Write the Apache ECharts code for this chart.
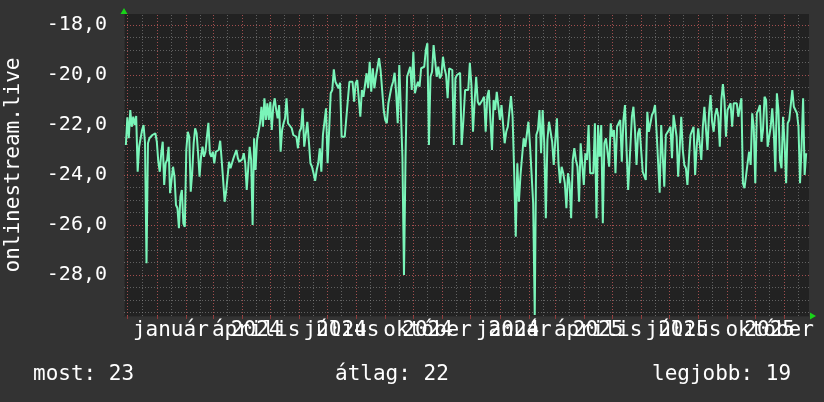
<!DOCTYPE html>
<html>
<head>
<meta charset="utf-8">
<script src="https://cdn.jsdelivr.net/npm/echarts@6/dist/echarts.min.js"></script>
<style>
  html, body { margin: 0; padding: 0; background: #333333; }
  #chart { width: 824px; height: 402px; }
</style>
</head>
<body>
<div id="chart"></div>
<script>
  // time range of the graph (2 years)
  const rangeStart = '2023-11-27';
  const rangeEnd = '2025-11-27';

  // measured values, oldest first, in four stretches (first and last day of each)
  const spans = [
    ['2023-11-29', '2024-05-20'],
    ['2024-05-24', '2024-11-23'],
    ['2024-11-25', '2025-05-18'],
    ['2025-05-22', '2025-11-24']
  ];
  const values1 = [
    -22.80, -21.69, -22.53, -21.40, -22.07, -21.67, -22.00, -21.64, -23.87, -22.87,
    -22.80, -22.20, -22.00, -22.73, -27.53, -22.73, -22.53, -22.47, -22.40, -22.47,
    -22.33, -22.67, -23.47, -23.87, -23.13, -22.67, -24.40, -23.53, -23.40, -22.87,
    -24.73, -24.67, -23.67, -24.07, -25.20, -25.33, -26.13, -24.87, -24.60, -25.93,
    -26.07, -23.00, -22.27, -22.47, -24.67, -23.93, -22.73, -22.13, -22.33, -23.13,
    -24.07, -23.27, -22.87, -23.27, -23.07, -22.47, -21.91, -23.13, -23.27, -23.07,
    -23.53, -23.07, -23.13, -23.00, -22.63, -23.40, -24.20, -25.07, -24.67, -24.73,
    -23.47, -23.73, -23.67, -23.33, -23.27, -23.00, -23.33, -23.47, -23.40, -23.37,
    -23.13, -23.53, -24.60, -23.73, -22.87, -23.40, -26.00, -22.53, -23.80, -22.60,
    -22.53, -21.93, -21.27, -22.07, -20.93, -21.80, -21.13, -21.80, -21.07, -22.20,
    -21.27, -20.93, -21.40, -21.73, -21.20, -23.07, -22.20, -21.93, -21.73, -20.93,
    -21.93
  ];
  const values2 = [
    -22.13, -22.40, -22.33, -22.47, -22.93, -22.27, -22.13, -21.33, -22.87, -22.87,
    -21.87, -22.67, -23.53, -23.67, -23.93, -24.23, -23.80, -23.53, -22.93, -23.87,
    -22.40, -22.33, -21.33, -23.53, -22.20, -20.73, -20.60, -19.77, -20.27, -20.33,
    -20.53, -20.31, -22.47, -22.49, -22.47, -22.40, -21.00, -20.27, -20.23, -20.27,
    -21.07, -20.33, -20.20, -20.13, -21.67, -20.60, -20.87, -20.80, -19.93, -20.53,
    -19.47, -20.67, -19.73, -20.53, -20.07, -20.07, -19.33, -19.80, -19.87, -21.40,
    -21.80, -21.93, -21.13, -20.80, -20.47, -20.27, -19.91, -20.73, -21.93, -19.60,
    -19.53, -23.27, -28.00, -23.27, -20.07, -20.00, -19.67, -20.60, -19.07, -20.73,
    -20.47, -20.27, -20.47, -19.73, -19.69, -19.67, -19.00, -18.73, -22.80, -20.07,
    -19.87, -18.80, -18.73, -20.07, -19.67, -20.13, -20.00, -19.27, -19.73, -20.00,
    -20.93, -19.73, -19.67, -19.80, -22.80, -20.13, -20.00, -19.93, -19.91, -22.80,
    -21.93
  ];
  const values3 = [
    -20.60, -20.67, -20.60, -19.51, -20.40, -22.27, -21.07, -20.07, -21.07, -21.20,
    -21.20, -21.00, -20.87, -22.27, -20.87, -20.60, -21.80, -23.00, -21.00, -21.40,
    -20.67, -20.67, -21.80, -21.20, -21.27, -22.73, -22.27, -22.07, -22.00, -20.84,
    -21.67, -23.87, -26.47, -23.53, -25.07, -24.00, -23.93, -22.53, -22.87, -22.93,
    -21.87, -22.80, -22.73, -25.13, -29.60, -22.40, -22.20, -21.40, -23.13, -21.40,
    -22.73, -25.73, -22.60, -21.87, -21.93, -22.67, -23.60, -22.60, -21.73, -23.53,
    -24.33, -23.67, -23.93, -24.33, -25.33, -23.93, -24.33, -25.73, -23.40, -22.93,
    -23.40, -23.67, -25.07, -22.73, -22.67, -24.40, -23.13, -23.40, -22.00, -23.93,
    -23.93, -23.93, -21.93, -25.73, -22.00, -23.27, -22.00, -25.93, -22.73, -22.53,
    -22.47, -23.67, -21.93, -22.47, -22.20, -23.93, -22.07, -22.00, -21.80, -23.47,
    -21.80, -21.20, -23.00, -24.60
  ];
  const values4 = [
    -21.67, -21.27, -22.20, -23.60, -22.33, -22.13, -22.20, -23.87, -23.80, -24.20,
    -21.47, -22.27, -22.27, -21.60, -21.47, -21.20, -22.27, -22.33, -24.71, -22.00,
    -22.07, -24.47, -22.40, -22.33, -22.20, -22.07, -23.33, -21.60, -21.67, -22.47,
    -24.07, -22.93, -21.67, -23.00, -23.60, -23.73, -24.40, -23.33, -22.40, -22.33,
    -22.07, -24.00, -22.87, -22.13, -22.20, -23.40, -22.07, -21.27, -21.27, -23.00,
    -21.53, -20.80, -21.87, -22.27, -21.60, -21.33, -21.67, -22.87, -21.00, -20.36,
    -21.00, -22.47, -21.40, -21.33, -21.13, -22.07, -21.13, -21.07, -21.13, -21.67,
    -21.27, -20.93, -24.33, -24.53, -24.60, -23.53, -23.07, -23.60, -21.53, -22.07,
    -24.33, -21.53, -21.40, -21.20, -22.67, -22.20, -20.87, -21.00, -22.87, -22.87,
    -22.07, -21.33, -22.27, -23.87, -20.73, -21.40, -23.40, -23.73, -21.67, -22.73,
    -24.33, -21.93, -21.80, -21.80, -20.60, -21.27, -21.27, -21.53, -22.07, -24.33,
    -22.87, -20.93, -24.00, -23.13
  ];

  const yMin = -29.64;
  const yMax = -17.56;
  const yTicks = [-28, -26, -24, -22, -20, -18];

  const monthNames = ['január', 'február', 'március', 'április', 'május', 'június',
    'július', 'augusztus', 'szeptember', 'október', 'november', 'december'];
  const monthLabelDates = ['2024-01-16', '2024-04-16', '2024-07-16', '2024-10-16',
    '2025-01-16', '2025-04-16', '2025-07-16', '2025-10-16'];
  const yearLabelDates = ['2024-04-16', '2024-07-16', '2024-10-16', '2025-01-16',
    '2025-04-16', '2025-07-16', '2025-10-16'];
  const yearLabels = ['2024', '2024', '2024', '2024', '2025', '2025', '2025'];

  const seriesName = 'onlinestream.live';
  const summaryLabels = ['most', 'átlag', 'legjobb'];
  const summaryValues = [23, 22, 19];

  const MONO = 'DejaVu Sans Mono';
  function ts(s) {
    const p = s.split('-').map(Number);
    return new Date(p[0], p[1] - 1, p[2]).getTime();
  }

  // spread each stretch evenly over its days
  const seriesData = [];
  [values1, values2, values3, values4].forEach((vals, k) => {
    const a = ts(spans[k][0]), b = ts(spans[k][1]);
    vals.forEach((v, i) => seriesData.push([a + (b - a) * i / (vals.length - 1), v]));
  });

  // grid positions: 1st and 16th of each month, red on month starts
  const minorX = [], majorX = [];
  for (let k = 0; k < 25; k++) {
    const first = new Date(2023, 11 + k, 1).getTime();
    const mid = new Date(2023, 11 + k, 16).getTime();
    if (first < ts(rangeEnd)) { majorX.push(first); minorX.push(first); }
    if (mid < ts(rangeEnd)) minorX.push(mid);
  }
  const minorY = [], majorY = [];
  for (let v = -29.5; v <= -17.5; v += 0.5) minorY.push(v);
  for (let v = -28; v <= -18; v += 2) majorY.push(v);

  const yearMap = {};
  yearLabelDates.forEach((d, i) => { yearMap[ts(d)] = yearLabels[i]; });

  function gridSeries(xs, ys, color) {
    return {
      type: 'line',
      data: [],
      silent: true,
      z: 1,
      markLine: {
        silent: true,
        symbol: ['none', 'none'],
        label: { show: false },
        animation: false,
        lineStyle: { color: color, width: 1, type: [1, 2] },
        emphasis: { disabled: true },
        data: xs.map(x => ({ xAxis: x })).concat(ys.map(y => ({ yAxis: y })))
      }
    };
  }

  const chart = echarts.init(document.getElementById('chart'), null, { renderer: 'canvas' });
  chart.setOption({
    backgroundColor: '#333333',
    animation: false,
    grid: {
      left: 124, right: 15, top: 14, bottom: 86,
      outerBoundsMode: 'none',
      containLabel: false,
      show: true, backgroundColor: '#222222', borderWidth: 0
    },
    xAxis: [{
      type: 'value',
      min: ts(rangeStart),
      max: ts(rangeEnd),
      axisLine: { show: true, lineStyle: { color: '#2c2c2c', width: 1 } },
      axisTick: {
        show: true, length: 3, inside: false,
        customValues: majorX,
        lineStyle: { color: '#8c3a3a' }
      },
      axisLabel: {
        customValues: monthLabelDates.map(ts),
        formatter: v => monthNames[new Date(v).getMonth()],
        color: '#ffffff', fontFamily: MONO, fontSize: 21, margin: 4
      },
      splitLine: { show: false }
    }, {
      type: 'value',
      min: ts(rangeStart),
      max: ts(rangeEnd),
      position: 'bottom',
      axisLine: {
        show: true, symbol: ['none', 'triangle'], symbolSize: [7, 6], symbolOffset: [0, 4],
        lineStyle: { color: '#19d419', width: 0 }
      },
      axisTick: { show: false },
      axisLabel: {
        customValues: yearLabelDates.map(ts),
        formatter: v => yearMap[v] || '',
        color: '#ffffff', fontFamily: MONO, fontSize: 21, margin: 4
      },
      splitLine: { show: false }
    }],
    yAxis: [{
      type: 'value',
      min: yMin, max: yMax,
      name: seriesName,
      nameLocation: 'middle',
      nameGap: 100,
      nameTextStyle: { color: '#ffffff', fontFamily: MONO, fontSize: 21 },
      axisLine: { show: true, lineStyle: { color: '#2c2c2c', width: 1 } },
      axisTick: { show: false },
      axisLabel: {
        customValues: yTicks,
        formatter: v => v.toFixed(1).replace('.', ','),
        color: '#ffffff', fontFamily: MONO, fontSize: 20, margin: 17
      },
      splitLine: { show: false }
    }, {
      type: 'value',
      min: yMin, max: yMax,
      position: 'left',
      axisLine: {
        show: true, symbol: ['none', 'triangle'], symbolSize: [7, 6], symbolOffset: [0, 3],
        lineStyle: { color: '#19d419', width: 0 }
      },
      axisTick: { show: false },
      axisLabel: { show: false },
      splitLine: { show: false }
    }],
    series: [
      gridSeries(minorX, minorY, 'rgba(150,150,150,0.55)'),
      gridSeries(majorX, majorY, 'rgba(190,70,70,0.7)'),
      {
        name: seriesName,
        type: 'line',
        data: seriesData,
        showSymbol: false,
        z: 5,
        lineStyle: { color: '#7af5b9', width: 2 },
        itemStyle: { color: '#7af5b9' }
      }
    ],
    graphic: summaryLabels.map((label, i) => ({
      type: 'text',
      left: [33, 335, 652][i],
      top: 364,
      style: {
        text: label + ': ' + summaryValues[i],
        fill: '#ffffff',
        font: '21px "DejaVu Sans Mono"'
      }
    }))
  });
</script>
</body>
</html>
